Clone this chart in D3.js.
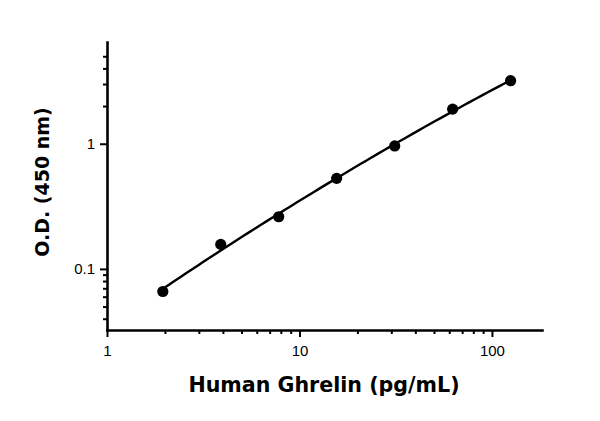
<!DOCTYPE html>
<html>
<head>
<meta charset="utf-8">
<script src="https://cdn.jsdelivr.net/npm/d3@7"></script>
<style>
  body { margin: 0; background: #fff; }
  svg { display: block; }
</style>
</head>
<body>
<svg width="600" height="421"></svg>
<script>
(function(d3) {
    'use strict';

    // standard curve: concentration (pg/mL) vs O.D.
    const concentrations = [1.95, 3.9, 7.8, 15.6, 31.25, 62.5, 125];
    const odValues = [0.066, 0.157, 0.261, 0.529, 0.96, 1.89, 3.19];

    const xMajorTicks = [1, 10, 100];
    const xMinorTicks = [2, 3, 4, 5, 6, 7, 8, 9, 20, 30, 40, 50, 60, 70, 80, 90];
    const yMajorTicks = [0.1, 1];
    const yMinorTicks = [0.04, 0.05, 0.06, 0.07, 0.08, 0.09, 2, 3, 4, 5];

    const xTitle = 'Human Ghrelin (pg/mL)';
    const yTitle = 'O.D. (450 nm)';

    const svg = d3.select('svg');
    const left = 107, right = 542, top = 42, bottom = 330;

    const xScale = d3.scaleLog()
        .domain([1, 182])
        .range([left, right]);

    const yScale = d3.scaleLog()
        .domain([0.0325, 6.5])
        .range([bottom, top]);

    const fmt = d => d3.format('~g')(d);

    // x axis
    const gx = svg.append('g')
        .attr('transform', `translate(0,${bottom})`);
    gx.append('g')
        .call(d3.axisBottom(xScale).tickValues(xMinorTicks).tickSize(4).tickFormat(''))
        .call(g => g.select('.domain').remove());
    gx.append('g')
        .call(d3.axisBottom(xScale).tickValues(xMajorTicks).tickSize(7).tickSizeOuter(0)
            .tickPadding(8).tickFormat(fmt));

    // y axis
    const gy = svg.append('g')
        .attr('transform', `translate(${left},0)`);
    gy.append('g')
        .call(d3.axisLeft(yScale).tickValues(yMinorTicks).tickSize(4).tickFormat(''))
        .call(g => g.select('.domain').remove());
    gy.append('g')
        .call(d3.axisLeft(yScale).tickValues(yMajorTicks).tickSize(7).tickSizeOuter(0)
            .tickPadding(5).tickFormat(fmt));

    svg.selectAll('.domain')
        .attr('stroke', '#000')
        .attr('stroke-width', 2.6)
        .attr('stroke-linecap', 'square');
    svg.selectAll('.tick line')
        .attr('stroke', '#000')
        .attr('stroke-width', 2);
    svg.selectAll('.tick text')
        .attr('fill', '#000')
        .style('font-family', 'Liberation Sans, Arial, sans-serif')
        .style('font-size', '15px');

    const points = concentrations.map((c, i) => [c, odValues[i]]);

    // fitted curve: quadratic least squares in log-log space
    const u = concentrations.map(Math.log10);
    const v = odValues.map(Math.log10);
    const S = k => d3.sum(u, a => Math.pow(a, k));
    const T = k => d3.sum(u, (a, i) => Math.pow(a, k) * v[i]);
    const A = [[S(0), S(1), S(2)], [S(1), S(2), S(3)], [S(2), S(3), S(4)]];
    const B = [T(0), T(1), T(2)];
    const det3 = m => m[0][0] * (m[1][1] * m[2][2] - m[1][2] * m[2][1])
        - m[0][1] * (m[1][0] * m[2][2] - m[1][2] * m[2][0])
        + m[0][2] * (m[1][0] * m[2][1] - m[1][1] * m[2][0]);
    const D = det3(A);
    const coef = [0, 1, 2].map(j => det3(A.map((row, r) => row.map((c, k) => k === j ? B[r] : c))) / D);
    const fit = lu => Math.pow(10, coef[0] + coef[1] * lu + coef[2] * lu * lu);
    const fitX = d3.range(0, 61).map(i => u[0] + (u[u.length - 1] - u[0]) * i / 60);

    svg.append('path')
        .datum(fitX)
        .attr('fill', 'none')
        .attr('stroke', '#000')
        .attr('stroke-width', 2.4)
        .attr('d', d3.line()
            .x(lu => xScale(Math.pow(10, lu)))
            .y(lu => yScale(fit(lu))));

    svg.append('g')
        .selectAll('circle')
        .data(points)
        .enter().append('circle')
        .attr('cx', d => xScale(d[0]))
        .attr('cy', d => yScale(d[1]))
        .attr('r', 5.6)
        .attr('fill', '#000');

    // axis titles
    svg.append('text')
        .attr('x', 324)
        .attr('y', 392)
        .attr('text-anchor', 'middle')
        .style('font-family', 'DejaVu Sans, sans-serif')
        .style('font-weight', 'bold')
        .style('font-size', '20.6px')
        .text(xTitle);

    svg.append('text')
        .attr('transform', `translate(49,182) rotate(-90)`)
        .attr('text-anchor', 'middle')
        .style('font-family', 'DejaVu Sans, sans-serif')
        .style('font-weight', 'bold')
        .style('font-size', '19px')
        .text(yTitle);
}(d3));
</script>
</body>
</html>
